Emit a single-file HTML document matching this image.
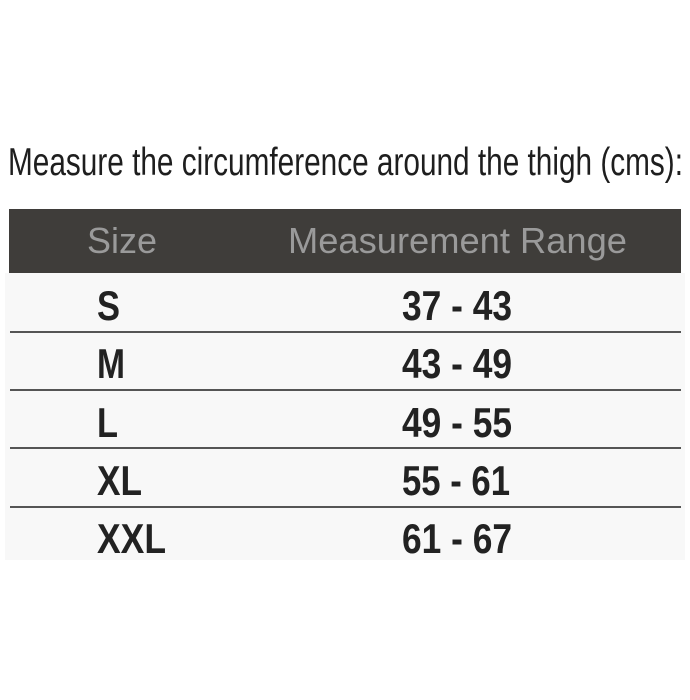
<!DOCTYPE html>
<html><head><meta charset="utf-8"><style>
html,body{margin:0;padding:0;background:#fff;}
svg{display:block;}
text{font-family:"Liberation Sans",sans-serif;}
</style></head><body>
<svg width="690" height="700" viewBox="0 0 690 700" xmlns="http://www.w3.org/2000/svg">
<rect width="690" height="700" fill="#ffffff"/>
<rect x="5" y="273" width="680" height="287" fill="#f8f8f8"/>
<text x="8" y="175" font-size="38.5" fill="#1e1e1e" textLength="675" lengthAdjust="spacingAndGlyphs">Measure the circumference around the thigh (cms):</text>
<rect x="9" y="209" width="672" height="64" fill="#3f3d3a"/>
<text x="87" y="253" font-size="36" fill="#9a9a9a" textLength="70" lengthAdjust="spacingAndGlyphs">Size</text>
<text x="288" y="253" font-size="36" fill="#9a9a9a" textLength="339" lengthAdjust="spacingAndGlyphs">Measurement Range</text>
<g stroke="#555" stroke-width="2">
<line x1="10" y1="332" x2="681" y2="332"/>
<line x1="10" y1="390" x2="681" y2="390"/>
<line x1="10" y1="448" x2="681" y2="448"/>
<line x1="10" y1="507" x2="681" y2="507"/>
</g>
<g font-size="42" font-weight="bold" fill="#222">
<text x="97" y="320" textLength="23" lengthAdjust="spacingAndGlyphs">S</text>
<text x="402" y="320" textLength="110" lengthAdjust="spacingAndGlyphs">37 - 43</text>
<text x="97" y="378" textLength="28" lengthAdjust="spacingAndGlyphs">M</text>
<text x="402" y="378" textLength="110" lengthAdjust="spacingAndGlyphs">43 - 49</text>
<text x="97" y="437" textLength="21" lengthAdjust="spacingAndGlyphs">L</text>
<text x="402" y="437" textLength="110" lengthAdjust="spacingAndGlyphs">49 - 55</text>
<text x="97" y="495" textLength="45" lengthAdjust="spacingAndGlyphs">XL</text>
<text x="402" y="495" textLength="108" lengthAdjust="spacingAndGlyphs">55 - 61</text>
<text x="97" y="553" textLength="69" lengthAdjust="spacingAndGlyphs">XXL</text>
<text x="402" y="553" textLength="110" lengthAdjust="spacingAndGlyphs">61 - 67</text>
</g>
</svg>
</body></html>
